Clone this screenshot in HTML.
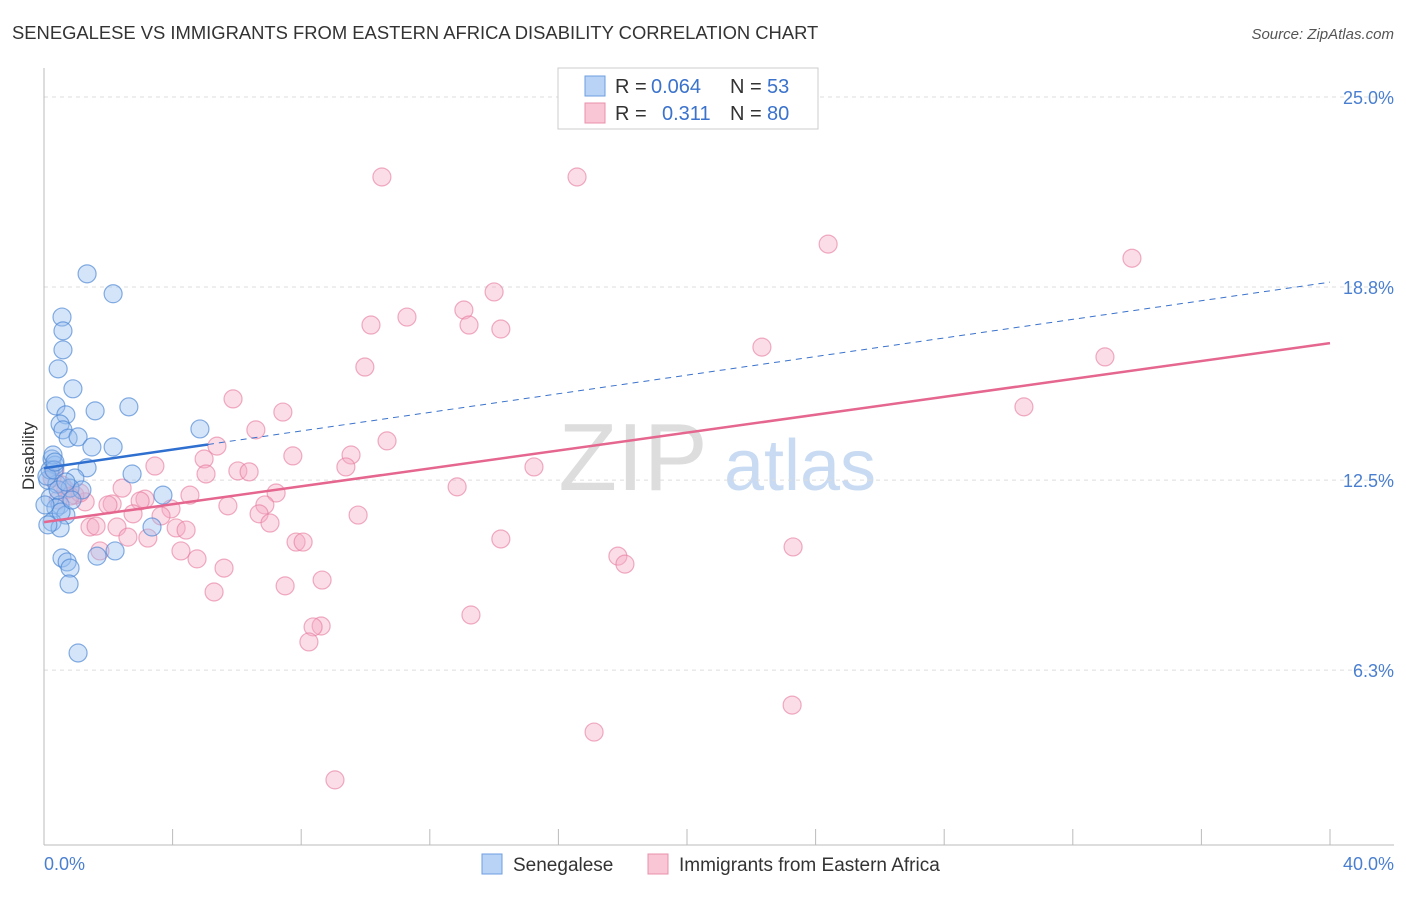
<!DOCTYPE html>
<html><head><meta charset="utf-8"><style>
body{margin:0;background:#fff;font-family:"Liberation Sans",sans-serif}
svg text{font-family:"Liberation Sans",sans-serif}
</style></head><body>
<svg id="chart" width="1406" height="892" xmlns="http://www.w3.org/2000/svg">
<text x="12" y="39" font-size="18.4" fill="#333">SENEGALESE VS IMMIGRANTS FROM EASTERN AFRICA DISABILITY CORRELATION CHART</text>
<text x="1394" y="39" font-size="15" fill="#555" font-style="italic" text-anchor="end">Source: ZipAtlas.com</text>
<text x="633" y="490" font-size="96" fill="#ddd" font-family="Liberation Serif" text-anchor="middle">ZIP</text>
<text x="800" y="490" font-size="72" fill="#c9dbf2" text-anchor="middle">atlas</text>
<g id="grid"></g>
<g id="axes"></g>
<g id="pts"></g>
<g id="lines"></g>
<text x="34" y="456" font-size="17" fill="#333" text-anchor="middle" transform="rotate(-90 34 456)">Disability</text>
<text x="44" y="870" font-size="18" fill="#4a7fd0">0.0%</text>
<text x="1394" y="870" font-size="18" fill="#4a7fd0" text-anchor="end">40.0%</text>
<g>
<rect x="558" y="68" width="260" height="61" fill="#fff" stroke="#ccc"/>
<rect x="585" y="76" width="20" height="20" fill="#b8d3f5" stroke="#6d9fe0"/>
<rect x="585" y="103" width="20" height="20" fill="#f9c6d5" stroke="#e890ab"/>
<text x="615" y="93" font-size="20" fill="#333">R =</text>
<text x="651" y="93" font-size="20" fill="#3a72cc">0.064</text>
<text x="730" y="93" font-size="20" fill="#333">N =</text>
<text x="767" y="93" font-size="20" fill="#3a72cc">53</text>
<text x="615" y="120" font-size="20" fill="#333">R =</text>
<text x="662" y="120" font-size="20" fill="#3a72cc">0.311</text>
<text x="730" y="120" font-size="20" fill="#333">N =</text>
<text x="767" y="120" font-size="20" fill="#3a72cc">80</text>
</g>
<g>
<rect x="482" y="854" width="20" height="20" fill="#b8d3f5" stroke="#6d9fe0"/>
<text x="513" y="871" font-size="19" fill="#333">Senegalese</text>
<rect x="648" y="854" width="20" height="20" fill="#f9c6d5" stroke="#e890ab"/>
<text x="679" y="871" font-size="19" fill="#333">Immigrants from Eastern Africa</text>
</g>
</svg>
<script>
const yTicks=[25.0,18.8,12.5,6.3];
const yTickLabels=["25.0%","18.8%","12.5%","6.3%"];
const xTicks=[0,4,8,12,16,20,24,28,32,36,40];
const blueX=[1.34,2.15,0.56,0.59,0.59,0.44,0.90,0.37,0.68,1.59,2.64,0.50,0.59,0.75,1.06,1.49,2.15,4.85,0.25,0.34,1.34,2.74,0.96,0.12,0.40,0.81,1.18,0.19,3.70,0.50,0.37,0.68,0.25,0.50,3.36,0.56,0.72,0.81,1.65,2.21,0.78,1.06,0.19,0.28,0.09,0.31,0.53,0.12,0.03,0.44,0.68,0.87,0.34];
const blueY=[19.23,18.58,17.82,17.37,16.75,16.13,15.48,14.92,14.63,14.76,14.89,14.33,14.14,13.87,13.91,13.58,13.58,14.17,13.19,12.99,12.90,12.70,12.57,12.50,12.37,12.24,12.18,11.92,12.01,11.69,11.59,11.36,11.13,10.94,10.97,9.96,9.83,9.63,10.02,10.19,9.11,6.86,12.83,13.32,12.63,12.83,11.46,11.04,11.69,12.18,12.44,11.85,13.09];
const pinkX=[10.51,16.58,24.39,33.84,14.00,11.29,13.06,10.17,13.22,14.21,22.33,33.00,9.98,5.88,7.43,30.48,6.59,5.38,10.67,9.55,7.74,4.98,3.45,9.39,15.24,6.03,6.38,5.04,12.85,2.43,4.54,7.22,3.14,2.99,3.95,2.12,1.28,1.99,5.72,6.87,6.69,9.77,3.64,2.77,7.03,1.43,1.62,2.27,4.11,4.42,2.61,3.23,14.21,7.84,8.06,23.30,1.74,4.26,4.76,17.85,18.07,5.60,8.65,7.50,5.29,13.28,8.62,8.37,8.24,23.27,17.11,9.05,0.34,0.68,0.96,1.12,0.56,0.81,0.25,0.44];
const pinkY=[22.39,22.39,20.20,19.74,18.64,17.82,18.05,17.56,17.56,17.43,16.84,16.52,16.19,15.15,14.72,14.89,14.14,13.61,13.78,13.32,13.29,13.19,12.96,12.93,12.93,12.80,12.77,12.70,12.28,12.24,12.01,12.08,11.88,11.82,11.56,11.72,11.79,11.69,11.66,11.69,11.40,11.36,11.33,11.40,11.10,10.97,11.00,10.97,10.94,10.87,10.64,10.61,10.58,10.48,10.48,10.32,10.19,10.19,9.93,10.02,9.76,9.63,9.24,9.05,8.85,8.10,7.74,7.71,7.22,5.16,4.28,2.72,12.83,12.18,12.01,12.08,12.34,11.98,12.57,11.85];
const blueTrend=[12.89,18.96];
const pinkTrend=[11.13,16.97];
const blueSolidEnd=5.1;
const NS="http://www.w3.org/2000/svg";
const xs=v=>44+v*32.15;
const ys=v=>97+(25-v)*30.65;
function mk(tag,attrs,parent){const e=document.createElementNS(NS,tag);for(const k in attrs)e.setAttribute(k,attrs[k]);parent.appendChild(e);return e;}
const grid=document.getElementById('grid'),axes=document.getElementById('axes'),pts=document.getElementById('pts'),lines=document.getElementById('lines');
yTicks.forEach((t,i)=>{
 const l=mk('line',{x1:44,x2:1394,y1:ys(t),y2:ys(t),stroke:'#ddd','stroke-dasharray':'4,4'},grid);
 
 
 const tx=mk('text',{x:1394,y:ys(t)+7,'font-size':18,fill:'#4a7fd0','text-anchor':'end'},grid);
 tx.textContent=yTickLabels[i];
 
 
});
const ax=mk('line',{x1:44,x2:1394,y1:845,y2:845,stroke:'#bbb'},axes);


const ay=mk('line',{x1:44,x2:44,y1:68,y2:845,stroke:'#bbb'},axes);


xTicks.forEach(t=>{
 const l=mk('line',{x1:xs(t),x2:xs(t),y1:829,y2:845,stroke:'#bbb'},axes);
 
 
});
pinkX.forEach((x,i)=>{
 const c=mk('circle',{cx:xs(x),cy:ys(pinkY[i]),r:9,fill:'rgba(246,170,195,0.4)',stroke:'rgba(230,120,155,0.6)','stroke-width':1.2},pts);
 
 
});
blueX.forEach((x,i)=>{
 const c=mk('circle',{cx:xs(x),cy:ys(blueY[i]),r:9,fill:'rgba(150,190,240,0.4)',stroke:'rgba(70,130,210,0.65)','stroke-width':1.2},pts);
 
 
});
const bAt=v=>blueTrend[0]+(blueTrend[1]-blueTrend[0])*v/40;
const bd=mk('line',{x1:xs(blueSolidEnd),y1:ys(bAt(blueSolidEnd)),x2:xs(40),y2:ys(blueTrend[1]),stroke:'#3a72cc','stroke-width':1,'stroke-dasharray':'6,5'},lines);


const bs=mk('line',{x1:xs(0),y1:ys(blueTrend[0]),x2:xs(blueSolidEnd),y2:ys(bAt(blueSolidEnd)),stroke:'#2f6fd0','stroke-width':2.5},lines);


const pl=mk('line',{x1:xs(0),y1:ys(pinkTrend[0]),x2:xs(40),y2:ys(pinkTrend[1]),stroke:'#e5668f','stroke-width':2.5},lines);


</script>
</body></html>
